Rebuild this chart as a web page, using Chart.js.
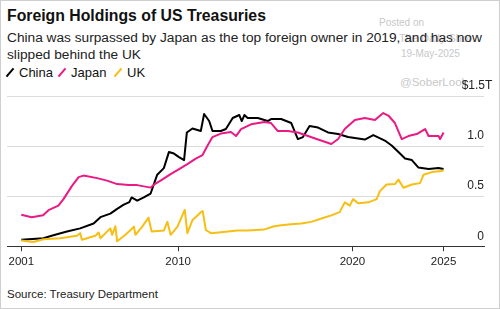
<!DOCTYPE html>
<html>
<head>
<meta charset="utf-8">
<script src="https://cdn.jsdelivr.net/npm/chart.js@4/dist/chart.umd.min.js"></script>
<style>
  html, body { margin: 0; padding: 0; background: #fff; }
  body { width: 500px; height: 309px; overflow: hidden; font-family: "Liberation Sans", Arial, sans-serif; }
  #wrap { position: relative; width: 498px; height: 307px; border: 1px solid #cfcfcf; background: #fff; }
  #chart { position: absolute; left: 0; top: 0; }
  .txt { position: absolute; white-space: nowrap; color: #111; }
  .mark { position: absolute; color: #c8c8c8; white-space: nowrap; }
  .leg { position: absolute; top: 64px; font-size: 13px; color: #111; }
  .leg i { display: inline-block; width: 2px; height: 11px; transform: rotate(40deg); margin: 0 8px -1px 4px; }
</style>
</head>
<body>
<div id="wrap">
  <div class="mark" style="left:378px;top:16px;font-size:10px;">Posted on</div>
  <div class="mark" style="left:398px;top:31px;font-size:11px;">The Daily Shot</div>
  <div class="mark" style="left:400px;top:47px;font-size:10px;">19-May-2025</div>
  <div class="mark" style="left:399px;top:75px;font-size:11.5px;">@SoberLook</div>
  <div class="txt" style="left:6px;top:6px;font-size:15.8px;font-weight:bold;">Foreign Holdings of US Treasuries</div>
  <div class="txt" style="left:6px;top:28px;font-size:13.7px;line-height:17px;color:#222;">China was surpassed by Japan as the top foreign owner in 2019, and has now<br>slipped behind the UK</div>
  <div class="leg" style="left:4px;"><i style="background:#000"></i>China</div>
  <div class="leg" style="left:56px;"><i style="background:#ea1a85"></i>Japan</div>
  <div class="leg" style="left:112px;"><i style="background:#f7be14"></i>UK</div>
  <div class="txt" style="left:6px;top:287px;font-size:11.5px;color:#222;">Source: Treasury Department</div>
  <canvas id="chart" width="498" height="307"></canvas>
</div>
<script>
// TIC holdings, $ trillions (decimal years)
var chinaX = [2001.0, 2002.27, 2002.84, 2003.62, 2004.38, 2005.15, 2005.54, 2006.11, 2006.5, 2006.88, 2007.2, 2007.33, 2007.65, 2008.03, 2008.42, 2008.8, 2009.18, 2009.47, 2009.76, 2010.05, 2010.34, 2010.5, 2010.82, 2011.3, 2011.49, 2011.78, 2011.97, 2012.45, 2012.74, 2013.13, 2013.51, 2013.65, 2013.8, 2013.99, 2014.57, 2015.14, 2015.33, 2015.91, 2016.49, 2016.87, 2017.16, 2017.54, 2018.03, 2018.6, 2019.18, 2019.75, 2020.14, 2020.71, 2021.2, 2021.86, 2022.25, 2022.64, 2023.02, 2023.41, 2023.79, 2024.37, 2024.94, 2025.23];
var chinaY = [0.065, 0.08, 0.11, 0.146, 0.178, 0.227, 0.29, 0.325, 0.373, 0.415, 0.44, 0.487, 0.455, 0.487, 0.526, 0.714, 0.78, 0.94, 0.925, 0.89, 0.86, 1.136, 1.175, 1.15, 1.32, 1.25, 1.15, 1.15, 1.17, 1.28, 1.31, 1.25, 1.31, 1.28, 1.28, 1.25, 1.27, 1.27, 1.23, 1.07, 1.09, 1.2, 1.185, 1.136, 1.12, 1.09, 1.08, 1.065, 1.11, 1.055, 1.006, 0.94, 0.876, 0.86, 0.785, 0.77, 0.78, 0.77];

var japanX = [2001.0, 2001.6, 2002.25, 2002.56, 2003.13, 2003.42, 2003.9, 2004.29, 2004.57, 2005.35, 2005.92, 2006.5, 2007.17, 2007.65, 2008.42, 2008.61, 2008.99, 2009.57, 2010.15, 2010.53, 2011.01, 2011.4, 2011.69, 2011.97, 2012.45, 2013.03, 2013.32, 2013.61, 2014.18, 2014.95, 2015.33, 2015.72, 2016.3, 2016.87, 2017.45, 2018.03, 2018.79, 2019.18, 2019.56, 2020.14, 2020.71, 2021.29, 2021.77, 2022.06, 2022.44, 2022.83, 2023.21, 2023.69, 2024.17, 2024.37, 2024.94, 2025.03, 2025.23];
var japanY = [0.315, 0.29, 0.31, 0.36, 0.405, 0.47, 0.6, 0.69, 0.705, 0.68, 0.655, 0.62, 0.61, 0.61, 0.585, 0.615, 0.655, 0.72, 0.78, 0.82, 0.875, 0.91, 1.006, 1.09, 1.125, 1.14, 1.1, 1.17, 1.217, 1.24, 1.23, 1.15, 1.15, 1.136, 1.1, 1.065, 1.02, 1.07, 1.17, 1.26, 1.28, 1.26, 1.33, 1.305, 1.23, 1.07, 1.1, 1.12, 1.17, 1.1, 1.1, 1.07, 1.136];

var ukX = [2001.0, 2001.69, 2002.27, 2003.23, 2004.19, 2004.38, 2004.48, 2005.25, 2005.44, 2005.54, 2006.11, 2006.21, 2006.4, 2006.5, 2006.98, 2007.27, 2007.46, 2007.55, 2007.94, 2008.3, 2008.48, 2009.18, 2009.38, 2009.57, 2009.96, 2010.38, 2010.53, 2010.82, 2011.3, 2011.41, 2011.59, 2011.88, 2012.45, 2013.41, 2013.99, 2014.95, 2015.52, 2015.91, 2016.49, 2017.06, 2017.64, 2018.22, 2018.79, 2019.27, 2019.56, 2019.85, 2020.04, 2020.33, 2020.91, 2021.39, 2021.58, 2021.96, 2022.44, 2022.64, 2022.93, 2023.41, 2023.88, 2024.08, 2024.56, 2025.11, 2025.23];
var ukY = [0.058, 0.042, 0.07, 0.08, 0.104, 0.13, 0.065, 0.104, 0.136, 0.08, 0.178, 0.114, 0.2, 0.049, 0.114, 0.162, 0.195, 0.114, 0.195, 0.285, 0.146, 0.156, 0.243, 0.114, 0.195, 0.363, 0.13, 0.26, 0.34, 0.35, 0.162, 0.13, 0.14, 0.156, 0.156, 0.168, 0.2, 0.21, 0.22, 0.227, 0.243, 0.276, 0.308, 0.34, 0.438, 0.405, 0.47, 0.428, 0.438, 0.47, 0.55, 0.616, 0.62, 0.665, 0.584, 0.616, 0.63, 0.714, 0.74, 0.75, 0.76];

var xTickYears = [2001, 2010, 2020, 2025.23];
var yTicks = [0, 0.5, 1.0, 1.5];

function pts(xs, ys) {
  return xs.map(function(x, i) { return { x: x, y: ys[i] }; });
}

// y labels sit above the gridlines, right aligned, "T" hangs past the edge
var yLabels = {
  id: 'yLabels',
  afterDraw: function(chart) {
    var ctx = chart.ctx, y = chart.scales.y, right = chart.chartArea.right;
    ctx.save();
    ctx.font = '12px "Liberation Sans", Arial, sans-serif';
    ctx.fillStyle = '#222';
    ctx.textAlign = 'right';
    ctx.textBaseline = 'middle';
    yTicks.forEach(function(v) {
      var py = y.getPixelForValue(v) - 10;
      if (v === 1.5) {
        ctx.fillText('$1.5', right + 1, py);
        ctx.textAlign = 'left';
        ctx.fillText('T', right + 1, py);
        ctx.textAlign = 'right';
      } else {
        ctx.fillText(v === 0 ? '0' : v.toFixed(1), right, py);
      }
    });
    ctx.restore();
  }
};

new Chart(document.getElementById('chart'), {
  type: 'line',
  data: {
    datasets: [
      { label: 'UK', data: pts(ukX, ukY), borderColor: '#f7be14', borderWidth: 2 },
      { label: 'Japan', data: pts(japanX, japanY), borderColor: '#ea1a85', borderWidth: 2 },
      { label: 'China', data: pts(chinaX, chinaY), borderColor: '#000', borderWidth: 2 }
    ]
  },
  plugins: [yLabels],
  options: {
    responsive: false,
    animation: false,
    events: [],
    layout: { padding: { left: 6, right: 15, top: 95, bottom: 35 } },
    elements: { point: { radius: 0 }, line: { tension: 0, borderJoinStyle: 'round' } },
    plugins: { legend: { display: false }, tooltip: { enabled: false } },
    scales: {
      x: {
        type: 'linear',
        min: 2000.18, max: 2027.55,
        afterBuildTicks: function(s) { s.ticks = xTickYears.map(function(v) { return { value: v }; }); },
        grid: { drawOnChartArea: false, drawTicks: true, tickLength: 5, color: '#333' },
        border: { display: true, color: '#333', width: 1 },
        ticks: {
          color: '#222', font: { size: 11.5, family: '"Liberation Sans", Arial, sans-serif' },
          maxRotation: 0, autoSkip: false, padding: 4,
          callback: function(v) { return Math.floor(v); }
        }
      },
      y: {
        position: 'right',
        min: 0, max: 1.5,
        afterBuildTicks: function(s) { s.ticks = yTicks.map(function(v) { return { value: v }; }); },
        grid: { color: '#dcdcdc', drawTicks: false, lineWidth: 1 },
        border: { display: false },
        ticks: { display: false }
      }
    }
  }
});
</script>
</body>
</html>
